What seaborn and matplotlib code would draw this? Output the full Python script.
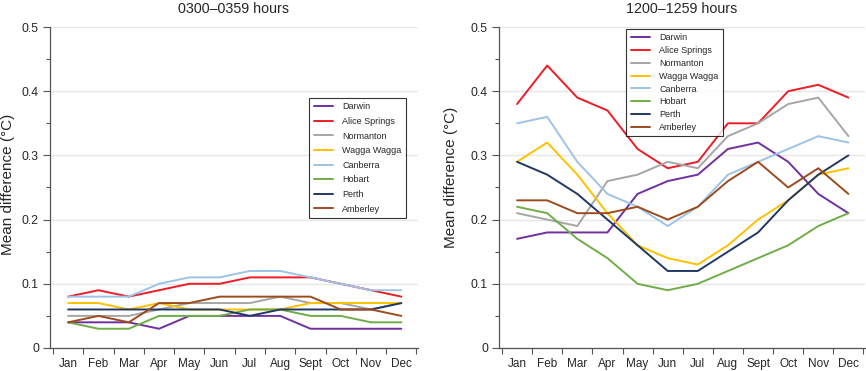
import matplotlib
matplotlib.use("Agg")
import matplotlib.pyplot as plt
import seaborn as sns
import pandas as pd
import numpy as np
from matplotlib.ticker import FixedLocator

months = ["Jan", "Feb", "Mar", "Apr", "May", "Jun", "Jul", "Aug", "Sept", "Oct", "Nov", "Dec"]
stations = ["Darwin", "Alice Springs", "Normanton", "Wagga Wagga", "Canberra", "Hobart", "Perth", "Amberley"]
colors = ["#7030a0", "#ee1c25", "#a6a6a6", "#ffc000", "#9dc3e6", "#70ad47", "#1f3864", "#9e4a1c"]
y_ticks = [0, 0.1, 0.2, 0.3, 0.4, 0.5]
y_ticklabels = ["0", "0.1", "0.2", "0.3", "0.4", "0.5"]

# 0300-0359 hours
night_darwin = [0.04, 0.04, 0.04, 0.03, 0.05, 0.05, 0.05, 0.05, 0.03, 0.03, 0.03, 0.03]
night_alice = [0.08, 0.09, 0.08, 0.09, 0.10, 0.10, 0.11, 0.11, 0.11, 0.10, 0.09, 0.08]
night_normanton = [0.05, 0.05, 0.05, 0.06, 0.07, 0.07, 0.07, 0.08, 0.07, 0.07, 0.06, 0.07]
night_wagga = [0.07, 0.07, 0.06, 0.07, 0.06, 0.06, 0.06, 0.06, 0.07, 0.07, 0.07, 0.07]
night_canberra = [0.08, 0.08, 0.08, 0.10, 0.11, 0.11, 0.12, 0.12, 0.11, 0.10, 0.09, 0.09]
night_hobart = [0.04, 0.03, 0.03, 0.05, 0.05, 0.05, 0.06, 0.06, 0.05, 0.05, 0.04, 0.04]
night_perth = [0.06, 0.06, 0.06, 0.06, 0.06, 0.06, 0.05, 0.06, 0.06, 0.06, 0.06, 0.07]
night_amberley = [0.04, 0.05, 0.04, 0.07, 0.07, 0.08, 0.08, 0.08, 0.08, 0.06, 0.06, 0.05]

# 1200-1259 hours
day_darwin = [0.17, 0.18, 0.18, 0.18, 0.24, 0.26, 0.27, 0.31, 0.32, 0.29, 0.24, 0.21]
day_alice = [0.38, 0.44, 0.39, 0.37, 0.31, 0.28, 0.29, 0.35, 0.35, 0.40, 0.41, 0.39]
day_normanton = [0.21, 0.20, 0.19, 0.26, 0.27, 0.29, 0.28, 0.33, 0.35, 0.38, 0.39, 0.33]
day_wagga = [0.29, 0.32, 0.27, 0.21, 0.16, 0.14, 0.13, 0.16, 0.20, 0.23, 0.27, 0.28]
day_canberra = [0.35, 0.36, 0.29, 0.24, 0.22, 0.19, 0.22, 0.27, 0.29, 0.31, 0.33, 0.32]
day_hobart = [0.22, 0.21, 0.17, 0.14, 0.10, 0.09, 0.10, 0.12, 0.14, 0.16, 0.19, 0.21]
day_perth = [0.29, 0.27, 0.24, 0.20, 0.16, 0.12, 0.12, 0.15, 0.18, 0.23, 0.27, 0.30]
day_amberley = [0.23, 0.23, 0.21, 0.21, 0.22, 0.20, 0.22, 0.26, 0.29, 0.25, 0.28, 0.24]

panels = [
    ("0300\u20130359 hours", [night_darwin, night_alice, night_normanton, night_wagga,
                              night_canberra, night_hobart, night_perth, night_amberley]),
    ("1200\u20131259 hours", [day_darwin, day_alice, day_normanton, day_wagga,
                              day_canberra, day_hobart, day_perth, day_amberley]),
]

sns.set_theme(style="white")
plt.rcParams['font.family'] = ['Liberation Sans', 'DejaVu Sans']

fig = plt.figure(figsize=(8.66, 3.71), dpi=100)
ax_pos = [[50/866, 1-348/371, 368/866, 321/371], [499/866, 1-348/371, 366/866, 321/371]]
leg_anchor = [(0.704, 0.779), (0.347, 0.994)]
leg_spacing = [0.62, 0.42]
ylabel_xy = [(-0.095, 0.51), (-0.112, 0.53)]
spine_c = "#555555"

for i, (title, series) in enumerate(panels):
    ax = fig.add_axes(ax_pos[i])
    rows = []
    for st, vals in zip(stations, series):
        for m, v in enumerate(vals):
            rows.append({"month": m, "station": st, "value": v})
    df = pd.DataFrame(rows)
    sns.lineplot(data=df, x="month", y="value", hue="station", hue_order=stations,
                 palette=colors, linewidth=1.4, ax=ax, sort=False)
    ax.set_xlim(-0.6, 11.55)
    ax.set_ylim(0, 0.5)
    ax.set_xticks(range(12))
    ax.set_xticklabels(months, fontsize=8.5)
    ax.xaxis.set_minor_locator(FixedLocator(np.arange(-0.5, 12, 1.0)))
    ax.tick_params(axis="x", which="major", length=0, pad=7)
    ax.tick_params(axis="x", which="minor", length=4, width=0.8, color=spine_c, direction="out", bottom=True)
    ax.set_yticks(y_ticks)
    ax.set_yticklabels(y_ticklabels, fontsize=8.7)
    ax.yaxis.set_minor_locator(FixedLocator(np.arange(0.05, 0.5, 0.1)))
    ax.tick_params(axis="y", which="major", length=5, width=0.8, color=spine_c, direction="out", left=True, pad=3)
    ax.tick_params(axis="y", which="minor", length=3, width=0.8, color=spine_c, direction="out", left=True)
    ax.grid(axis="y", which="major", color="#e6e6e6", linewidth=1.0)
    ax.set_axisbelow(True)
    for s in ["top", "right"]:
        ax.spines[s].set_visible(False)
    for s in ["left", "bottom"]:
        ax.spines[s].set_color(spine_c)
        ax.spines[s].set_linewidth(0.9)
    ax.set_xlabel("")
    ax.set_ylabel("Mean difference (\u00b0C)", fontsize=11)
    ax.yaxis.set_label_coords(*ylabel_xy[i])
    ax.set_title(title, fontsize=10.3, pad=10)
    leg = ax.legend(loc="upper left", bbox_to_anchor=leg_anchor[i], borderaxespad=0,
                    fontsize=6.5, frameon=True, fancybox=False, handlelength=2.2,
                    labelspacing=leg_spacing[i], borderpad=0.5, handletextpad=1.0)
    leg.get_frame().set_edgecolor("black")
    leg.get_frame().set_linewidth(0.8)

fig.savefig("out.png", dpi=100)
